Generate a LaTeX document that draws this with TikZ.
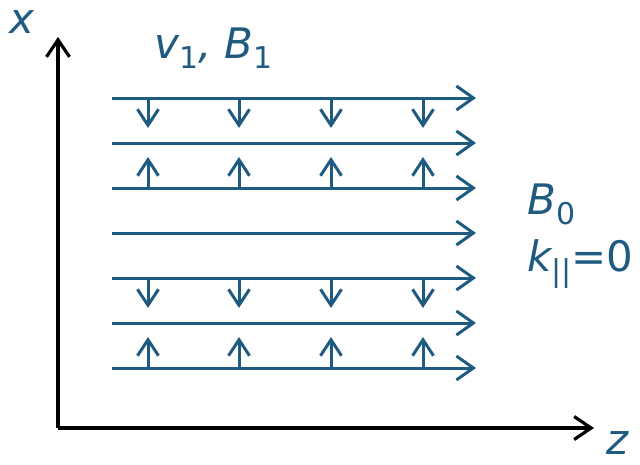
\documentclass[tikz,border=0pt]{standalone}
\usepackage{fontspec}
\setmainfont{DejaVu Sans}
\usetikzlibrary{arrows.meta}
\definecolor{fb}{HTML}{1F5A80}
\tikzset{
  fieldline/.style={fb, line width=3pt, -{Straight Barb[length=17pt,width=24pt,line width=3pt]}},
  smallarr/.style={fb, line width=3pt, -{Straight Barb[length=16pt,width=21pt,line width=3pt]}},
  axis/.style={black, line width=3.2pt, -{Straight Barb[length=17pt,width=23pt,line width=3.2pt]}},
  lbl/.style={text=fb, inner sep=0pt, font=\fontsize{42}{44}\selectfont},
}
\newcommand{\sbs}[1]{\raisebox{-0.26em}{\fontsize{30}{30}\selectfont\upshape #1}}
\begin{document}
\begin{tikzpicture}[x=1pt,y=-1pt]
\useasboundingbox (0,0) rectangle (640,464);
% axes
\coordinate (O) at (58,428);
\coordinate (xe) at (58,37);
\coordinate (ze) at (594,428);
\draw[axis] (O) -- (xe);
\draw[axis] (O) -- (ze);
\node[lbl, anchor=base west] (xl) at (9,33) {\itshape x};
\node[lbl, anchor=base west] (zl) at (606,454) {\itshape z};
% field lines
\foreach \i/\y in {1/98,2/143,3/188,4/233,5/278,6/323,7/368}{
  \coordinate (s\i) at (112,\y);
  \coordinate (e\i) at (476,\y);
  \draw[fieldline] (s\i) -- (e\i);
}
% small arrows
\foreach \x in {148,239,331,423}{
  \coordinate (a1\x) at (\x,98);  \coordinate (b1\x) at (\x,128);
  \draw[smallarr] (a1\x) -- (b1\x);
  \coordinate (a3\x) at (\x,188); \coordinate (b3\x) at (\x,157);
  \draw[smallarr] (a3\x) -- (b3\x);
  \coordinate (a5\x) at (\x,278); \coordinate (b5\x) at (\x,308);
  \draw[smallarr] (a5\x) -- (b5\x);
  \coordinate (a7\x) at (\x,368); \coordinate (b7\x) at (\x,337);
  \draw[smallarr] (a7\x) -- (b7\x);
}
% labels
\node[lbl, anchor=base west] (vb) at (154,58) {\itshape v\sbs{1}, B\sbs{1}};
\node[lbl, anchor=base west] (b0) at (527,214) {\itshape B\sbs{0}};
\node[lbl, anchor=base west] (kp) at (527,271) {\itshape k\sbs{||}\upshape =0};
\end{tikzpicture}
\end{document}
